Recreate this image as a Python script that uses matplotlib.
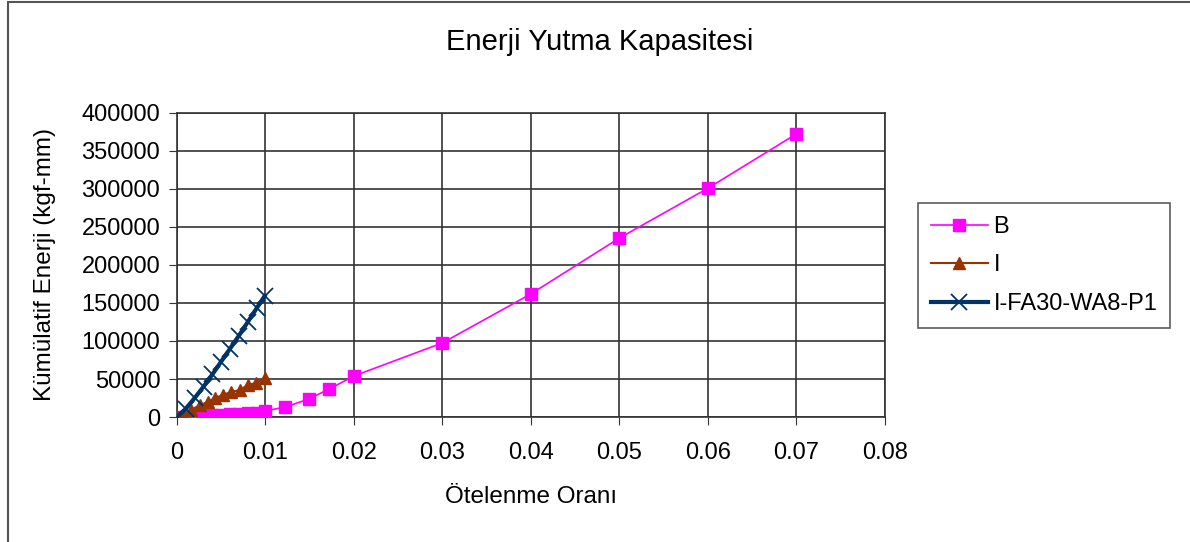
import matplotlib
matplotlib.use("Agg")
import matplotlib.pyplot as plt
from matplotlib.patches import Rectangle

plt.rcParams["font.family"] = ["Liberation Sans", "DejaVu Sans"]

# Series B
b_x = [0, 0.001, 0.002, 0.003, 0.004, 0.005, 0.006, 0.007, 0.008, 0.009, 0.0099,
       0.0122, 0.0149, 0.0172, 0.02, 0.03, 0.04, 0.05, 0.06, 0.07]
b_y = [0, 500, 1000, 1500, 2200, 2800, 3400, 4000, 4800, 5800, 7900,
       13000, 23700, 36800, 54000, 97500, 162000, 235500, 301000, 372500]

# Series I
i_x = [0, 0.0007, 0.0016, 0.0026, 0.0035, 0.0043, 0.0052, 0.0061, 0.0071, 0.0080, 0.0089, 0.0099]
i_y = [0, 2600, 9200, 15800, 19700, 25000, 29000, 32900, 35500, 42100, 44700, 51300]

# Series I-FA30-WA8-P1
f_x = [0, 0.001, 0.002, 0.003, 0.004, 0.005, 0.006, 0.007, 0.008, 0.009, 0.0099]
f_y = [0, 11000, 25000, 40000, 56000, 73000, 90000, 107000, 125000, 143000, 159000]

x_ticks = [0, 0.01, 0.02, 0.03, 0.04, 0.05, 0.06, 0.07, 0.08]
x_labels = ["0", "0.01", "0.02", "0.03", "0.04", "0.05", "0.06", "0.07", "0.08"]
y_ticks = [0, 50000, 100000, 150000, 200000, 250000, 300000, 350000, 400000]

fig = plt.figure(figsize=(11.9, 5.42), dpi=100)
fig.patches.append(Rectangle((0.007, -0.05), 1.1, 1.046, transform=fig.transFigure,
                             fill=False, edgecolor="#555555", linewidth=1.5))

ax = fig.add_axes([0.1487, 0.2306, 0.595, 0.561])
ax.plot(b_x, b_y, color="#FF00FF", marker="s", markersize=8, linewidth=1.2, label="B", zorder=3)
ax.plot(i_x, i_y, color="#993300", marker="^", markersize=8, linewidth=1.5, label="I", zorder=4)
ax.plot(f_x, f_y, color="#003366", marker="x", markersize=11, markeredgewidth=1.3,
        linewidth=3, label="I-FA30-WA8-P1", zorder=5)

ax.set_xlim(0, 0.08)
ax.set_ylim(0, 400000)
ax.set_xticks(x_ticks)
ax.set_xticklabels(x_labels)
ax.set_yticks(y_ticks)
ax.set_yticklabels([str(v) for v in y_ticks])
ax.tick_params(labelsize=17, length=6, color="#333333")
ax.tick_params(axis="x", pad=12)
ax.tick_params(axis="y", pad=6)
ax.grid(True, color="#333333", linewidth=1.2)
for s in ax.spines.values():
    s.set_color("#333333")
    s.set_linewidth(1.2)
ax.set_axisbelow(True)

ax.set_xlabel("Ötelenme Oranı", fontsize=17.5)
ax.xaxis.set_label_coords(0.5, -0.263)
ax.xaxis.label.set_va("center")
ax.set_ylabel("Kümülatif Enerji (kgf-mm)", fontsize=17.5)
ax.yaxis.set_label_coords(-0.186, 0.5)
ax.yaxis.label.set_va("center")
fig.text(0.504, 0.922, "Enerji Yutma Kapasitesi", ha="center", va="center", fontsize=21)

leg = fig.legend(loc="upper left", bbox_to_anchor=(0.7714, 0.6255), borderaxespad=0,
                 fontsize=17, frameon=True, fancybox=False, edgecolor="#333333",
                 borderpad=0.55, handlelength=2.4, labelspacing=0.7, handletextpad=0.25)
leg.get_frame().set_linewidth(1.2)

fig.savefig("out.png", dpi=100)
